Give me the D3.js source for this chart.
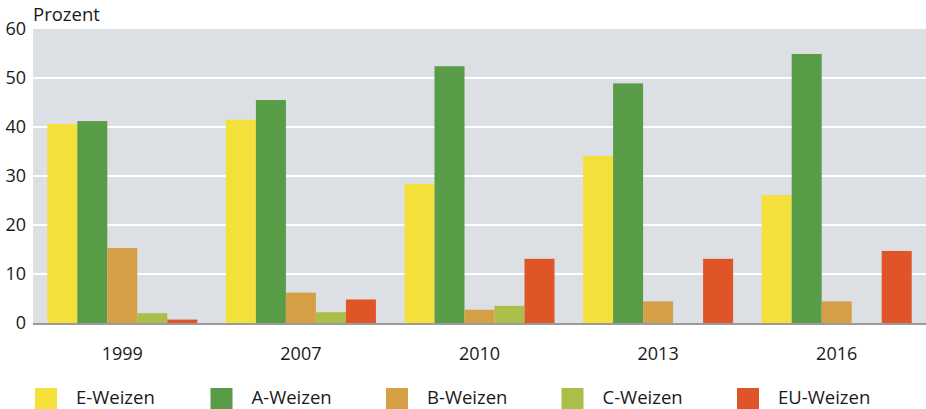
<!DOCTYPE html>
<html lang="de">
<head>
  <meta charset="UTF-8">
  <title>Weizen Qualitätsgruppen</title>
  <script src="https://d3js.org/d3.v7.min.js"></script>
  <style>
      body {
          margin: 0;
          padding: 0;
          background: #fff;
          font-family: 'Open Sans', 'Noto Sans', sans-serif;
          overflow: hidden;
      }
      svg { display: block; }
  </style>
</head>
<body>
  <svg width="926" height="409"></svg>
  <script>
      // data
      const years = ["1999", "2007", "2010", "2013", "2016"];
      const series = ["E-Weizen", "A-Weizen", "B-Weizen", "C-Weizen", "EU-Weizen"];
      const eWeizen = [40.6, 41.5, 28.4, 34.1, 26.1];
      const aWeizen = [41.2, 45.5, 52.4, 48.9, 54.9];
      const bWeizen = [15.3, 6.2, 2.7, 4.4, 4.4];
      const cWeizen = [2.0, 2.2, 3.5, 0, 0];
      const euWeizen = [0.7, 4.8, 13.1, 13.1, 14.7];
      const yTicks = [0, 10, 20, 30, 40, 50, 60];
      const colors = ["#f3e03b", "#589c48", "#d59f45", "#abbf48", "#e05527"];

      const values = [eWeizen, aWeizen, bWeizen, cWeizen, euWeizen];

      const svg = d3.select("svg");
      const margin = { top: 29, right: 0, bottom: 86, left: 33 };
      const width = 926 - margin.left - margin.right;
      const height = 409 - margin.top - margin.bottom;
      const font = "'Open Sans', 'Noto Sans', sans-serif";

      const g = svg.append("g").attr("transform", `translate(${margin.left},${margin.top})`);

      const x0 = d3.scaleBand().domain(years).range([0, width]).padding(0);
      const groupW = 150;
      const x1 = d3.scaleBand().domain(series).range([0, groupW]).padding(0);
      const y = d3.scaleLinear().domain([0, 60]).range([height, 0]);

      // plot background
      g.append("rect")
          .attr("width", width)
          .attr("height", height)
          .attr("fill", "#dce0e4");

      // gridlines
      g.append("g")
          .selectAll("line")
          .data(yTicks.filter(d => d > 0 && d < 60))
          .join("line")
          .attr("x1", 0)
          .attr("x2", width)
          .attr("y1", d => y(d))
          .attr("y2", d => y(d))
          .attr("stroke", "#fff")
          .attr("stroke-width", 2);

      // bars
      const groups = g.append("g")
          .selectAll("g")
          .data(years)
          .join("g")
          .attr("transform", d => `translate(${x0(d) + (x0.bandwidth() - groupW) / 2},0)`);

      groups.selectAll("rect")
          .data((yr, i) => series.map((s, j) => ({ s, j, v: values[j][i] })))
          .join("rect")
          .attr("x", d => x1(d.s))
          .attr("y", d => y(d.v))
          .attr("width", x1.bandwidth())
          .attr("height", d => height - y(d.v))
          .attr("fill", d => colors[d.j]);

      // baseline
      g.append("line")
          .attr("x1", 0)
          .attr("x2", width)
          .attr("y1", height + 1)
          .attr("y2", height + 1)
          .attr("stroke", "#9b9b9b")
          .attr("stroke-width", 2);

      // y axis labels
      const yAxis = g.append("g")
          .call(d3.axisLeft(y).tickValues(yTicks).tickSize(0).tickPadding(7));
      yAxis.select(".domain").remove();
      yAxis.selectAll("text")
          .attr("font-family", font)
          .attr("font-size", "18px")
          .attr("fill", "#1a1a1a");

      // x axis labels
      const xAxis = g.append("g")
          .attr("transform", `translate(0,${height})`)
          .call(d3.axisBottom(x0).tickSize(0).tickPadding(24));
      xAxis.select(".domain").remove();
      xAxis.selectAll("text")
          .attr("font-family", font)
          .attr("font-size", "18px")
          .attr("fill", "#1a1a1a");

      // unit label
      svg.append("text")
          .attr("x", margin.left)
          .attr("y", 21)
          .attr("font-family", font)
          .attr("font-size", "18.5px")
          .attr("fill", "#1a1a1a")
          .text("Prozent");

      // legend
      const legend = svg.append("g").attr("transform", "translate(35,388)");
      const item = legend.selectAll("g")
          .data(series)
          .join("g")
          .attr("transform", (d, i) => `translate(${i * 175.5},0)`);
      item.append("rect")
          .attr("width", 22)
          .attr("height", 21)
          .attr("fill", (d, i) => colors[i]);
      item.append("text")
          .attr("x", 41)
          .attr("y", 16)
          .attr("font-family", font)
          .attr("font-size", "18.5px")
          .attr("fill", "#1a1a1a")
          .text(d => d);
  </script>
</body>
</html>
